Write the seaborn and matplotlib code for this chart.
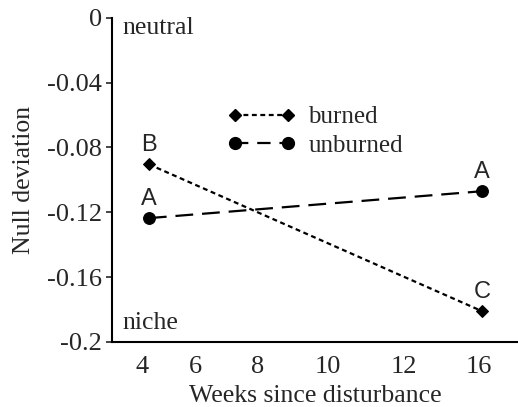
import matplotlib
matplotlib.use("Agg")
import matplotlib.pyplot as plt
import seaborn as sns
import pandas as pd
from matplotlib.lines import Line2D

weeks = [4.3, 16.0]
burned = [-0.0904, -0.181]
unburned = [-0.1236, -0.107]
burned_letters = ["B", "C"]
unburned_letters = ["A", "A"]
x_tick_pos = [4.05, 5.95, 8.13, 10.59, 13.26, 15.9]
x_tick_labels = ["4", "6", "8", "10", "12", "16"]
y_ticks = [0, -0.04, -0.08, -0.12, -0.16, -0.2]
y_tick_labels = ["0", "-0.04", "-0.08", "-0.12", "-0.16", "-0.2"]

sns.set_style("ticks")
plt.rcParams["font.family"] = ["Liberation Serif", "DejaVu Serif"]

fig = plt.figure(figsize=(5.18, 4.07), dpi=100)
ax = fig.add_axes([0.216, 0.160, 0.784, 0.796])

df_b = pd.DataFrame({"weeks": weeks, "value": burned})
df_u = pd.DataFrame({"weeks": weeks, "value": unburned})

sns.lineplot(data=df_b, x="weeks", y="value", ax=ax, color="black", lw=1.6,
             marker="D", markersize=6, linestyle=(0, (2.2, 1.6)))
sns.lineplot(data=df_u, x="weeks", y="value", ax=ax, color="black", lw=1.6,
             marker="o", markersize=8.5, linestyle=(0, (8, 4)))
for ln in ax.lines:
    ln.set_markeredgecolor("black")

for x, y, t in zip(weeks, burned, burned_letters):
    ax.annotate(t, (x, y), xytext=(0, 14), textcoords="offset points",
                ha="center", va="center", fontsize=17, family="Liberation Sans")
for x, y, t in zip(weeks, unburned, unburned_letters):
    ax.annotate(t, (x, y), xytext=(0, 14), textcoords="offset points",
                ha="center", va="center", fontsize=17, family="Liberation Sans")

ax.text(0.027, 0.969, "neutral", transform=ax.transAxes, fontsize=18.5, va="center", ha="left")
ax.text(0.027, 0.058, "niche", transform=ax.transAxes, fontsize=18.5, va="center", ha="left")

ax.set_xlim(3.0, 17.27)
ax.set_ylim(-0.2, 0)
ax.set_xticks(x_tick_pos)
ax.set_xticklabels(x_tick_labels, fontsize=19)
ax.set_yticks(y_ticks)
ax.set_yticklabels(y_tick_labels, fontsize=19)
ax.tick_params(axis="x", length=0, pad=10)
ax.tick_params(axis="y", length=4, width=1.2, direction="out", pad=3)
ax.set_xlabel("Weeks since disturbance", fontsize=18.5, labelpad=5)
ax.set_ylabel("Null deviation", fontsize=18.5, labelpad=9)
for s in ["top", "right"]:
    ax.spines[s].set_visible(False)
for s in ["left", "bottom"]:
    ax.spines[s].set_linewidth(1.5)
    ax.spines[s].set_color("black")

handles = [
    Line2D([0], [0], color="black", lw=1.6, linestyle=(0, (2.2, 1.6)), marker="D", markersize=6),
    Line2D([0], [0], color="black", lw=1.6, linestyle=(0, (6, 4)), marker="o", markersize=8.5),
]
ax.legend(handles, ["burned", "unburned"], loc="center left", bbox_to_anchor=(0.23, 0.649),
          frameon=False, numpoints=2, handlelength=2.72, handletextpad=0.5,
          labelspacing=0.25, fontsize=18)

fig.savefig("out.png", dpi=100)
